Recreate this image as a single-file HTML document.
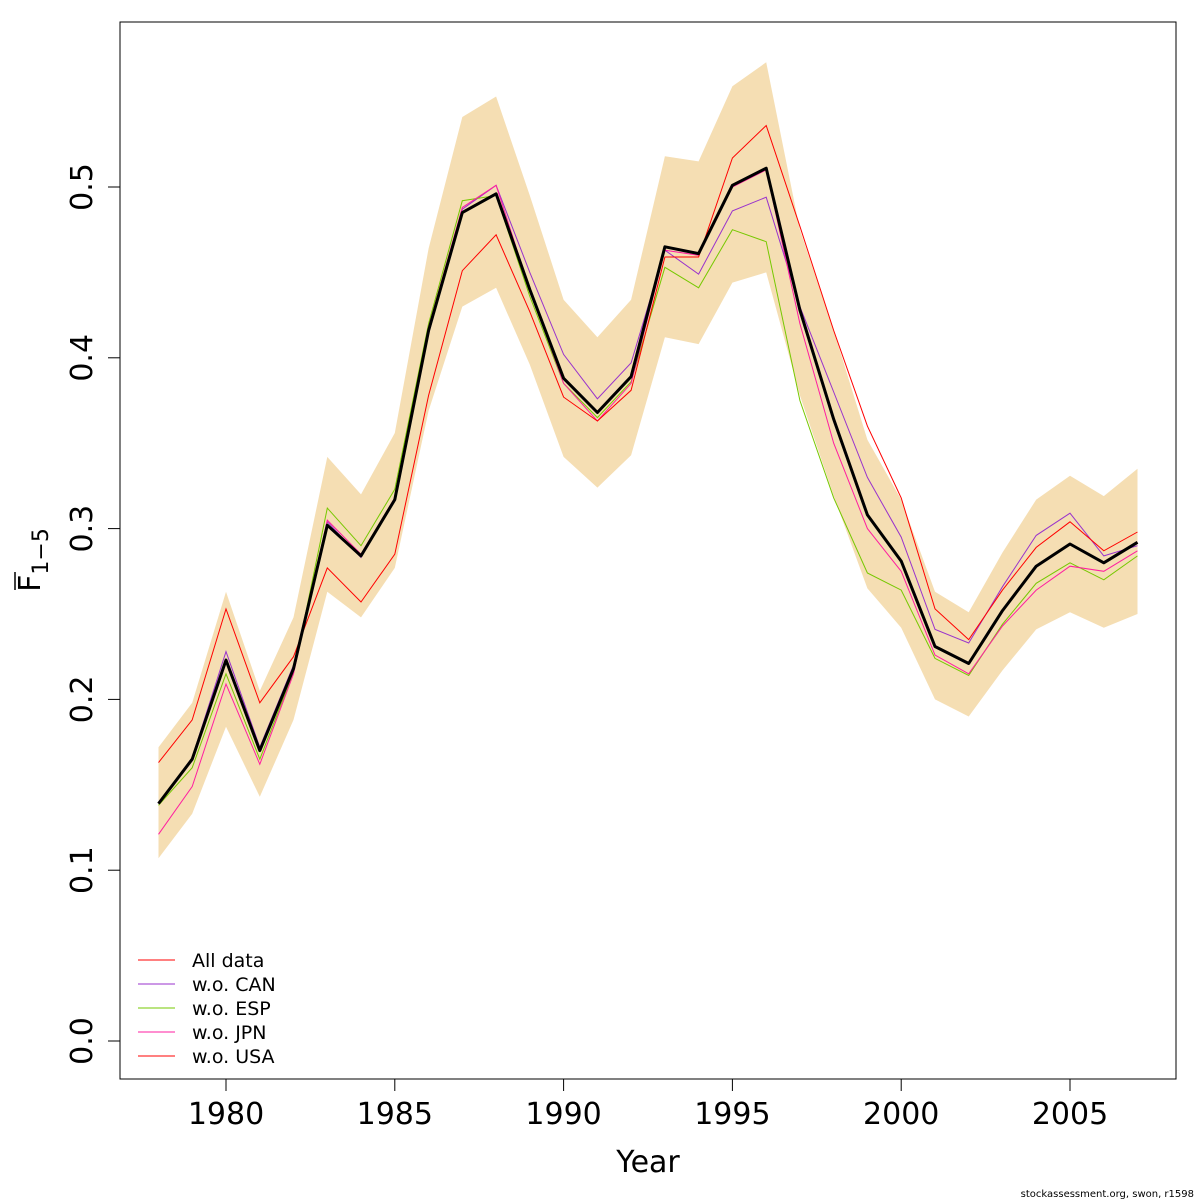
<!DOCTYPE html>
<html><head><meta charset="utf-8"><style>
body{margin:0;background:#fff;}
svg{display:block;font-family:"DejaVu Sans","Liberation Sans",sans-serif;}
</style></head><body>
<svg id="chart" width="1200" height="1200" viewBox="0 0 1200 1200">
<rect x="120" y="22" width="1056" height="1057" fill="none" stroke="#000" stroke-width="1"/>
<g id="band"></g>
<g id="lines"></g>
<g id="xaxis"></g>
<g id="yaxis"></g>
<text x="648" y="1172" font-size="30" text-anchor="middle">Year</text>
<g transform="translate(40,560) rotate(-90)">
<text x="0" y="0" font-size="30" text-anchor="middle">F<tspan font-size="22" dy="8">1−5</tspan></text>
<line x1="-30" y1="-25" x2="-12" y2="-25" stroke="#000" stroke-width="1.5"/>
</g>
<g id="legend"></g>
<text x="1194" y="1197" font-size="10" text-anchor="end">stockassessment.org, swon, r1598</text>
</svg>
<script>
const years=[];for(let y=1978;y<=2007;y++)years.push(y);
const base=[0.139,0.165,0.223,0.170,0.218,0.302,0.284,0.317,0.416,0.485,0.496,0.440,0.388,0.368,0.389,0.465,0.461,0.501,0.511,0.428,0.364,0.308,0.281,0.231,0.221,0.252,0.278,0.291,0.280,0.292];
const upper=[0.172,0.198,0.263,0.205,0.248,0.342,0.320,0.356,0.464,0.541,0.553,0.495,0.434,0.412,0.434,0.518,0.515,0.559,0.573,0.475,0.416,0.352,0.317,0.263,0.251,0.286,0.317,0.331,0.319,0.335];
const lower=[0.107,0.133,0.184,0.143,0.188,0.263,0.248,0.277,0.369,0.430,0.441,0.396,0.342,0.324,0.343,0.412,0.408,0.444,0.450,0.378,0.319,0.265,0.242,0.200,0.190,0.217,0.241,0.251,0.242,0.250];
const woCAN=[0.139,0.166,0.228,0.172,0.220,0.304,0.283,0.318,0.414,0.487,0.501,0.450,0.402,0.376,0.397,0.463,0.449,0.486,0.494,0.430,0.380,0.330,0.295,0.241,0.233,0.266,0.296,0.309,0.284,0.290];
const woESP=[0.138,0.160,0.215,0.165,0.216,0.312,0.290,0.323,0.420,0.492,0.495,0.436,0.385,0.365,0.386,0.453,0.441,0.475,0.468,0.375,0.318,0.274,0.264,0.224,0.214,0.244,0.268,0.280,0.270,0.284];
const woJPN=[0.121,0.149,0.209,0.162,0.215,0.305,0.285,0.318,0.418,0.488,0.501,0.440,0.385,0.363,0.385,0.463,0.460,0.500,0.510,0.420,0.350,0.300,0.275,0.226,0.215,0.243,0.264,0.278,0.275,0.287];
const woUSA=[0.163,0.188,0.253,0.198,0.225,0.277,0.257,0.285,0.378,0.451,0.472,0.427,0.377,0.363,0.381,0.459,0.459,0.517,0.536,0.477,0.416,0.360,0.318,0.253,0.235,0.264,0.289,0.304,0.287,0.298];
const xTicks=[1980,1985,1990,1995,2000,2005];
const yTicks=[0.0,0.1,0.2,0.3,0.4,0.5];
const yTickLabels=["0.0","0.1","0.2","0.3","0.4","0.5"];
const legendLabels=["All data","w.o. CAN","w.o. ESP","w.o. JPN","w.o. USA"];
const legendColors=["#ff0000","#9932cc","#76c800","#ff1ea0","#ff0000"];

const NS="http://www.w3.org/2000/svg";
const X=y=>226+(y-1980)*33.76;
const Y=v=>1041-v*1708;
function mk(t,a,p){const e=document.createElementNS(NS,t);for(const k in a)e.setAttribute(k,a[k]);p.appendChild(e);return e;}
const band=document.getElementById('band');
let d=years.map((y,i)=>(i?'L':'M')+X(y).toFixed(1)+','+Y(upper[i]).toFixed(1)).join('');
for(let i=years.length-1;i>=0;i--)d+='L'+X(years[i]).toFixed(1)+','+Y(lower[i]).toFixed(1);
const bp=mk('path',{d:d+'Z',fill:'#f5deb3'},band);


const lines=document.getElementById('lines');
const series=[base,woCAN,woESP,woJPN,woUSA];
const names=['line-all-data','line-wo-can','line-wo-esp','line-wo-jpn','line-wo-usa'];
series.forEach((s,k)=>{
 const p=mk('polyline',{points:years.map((y,i)=>X(y).toFixed(1)+','+Y(s[i]).toFixed(1)).join(' '),fill:'none',stroke:legendColors[k],'stroke-width':1},lines);
 
 
});
const bl=mk('polyline',{points:years.map((y,i)=>X(y).toFixed(1)+','+Y(base[i]).toFixed(1)).join(' '),fill:'none',stroke:'#000','stroke-width':3,'stroke-linejoin':'round'},lines);


const xa=document.getElementById('xaxis');
mk('line',{x1:X(1980),x2:X(2005),y1:1079,y2:1079,stroke:'#000'},xa);
xTicks.forEach(t=>{
 mk('line',{x1:X(t),x2:X(t),y1:1079,y2:1091,stroke:'#000'},xa);
 const tx=mk('text',{x:X(t),y:1124,'font-size':30,'text-anchor':'middle'},xa);tx.textContent=t;
 
 
});
const ya=document.getElementById('yaxis');
mk('line',{x1:120,x2:120,y1:Y(0),y2:Y(0.5),stroke:'#000'},ya);
yTicks.forEach((t,i)=>{
 mk('line',{x1:108,x2:120,y1:Y(t),y2:Y(t),stroke:'#000'},ya);
 const tx=mk('text',{x:92,y:Y(t),'font-size':30,'text-anchor':'middle',transform:`rotate(-90 92 ${Y(t)})`},ya);tx.textContent=yTickLabels[i];
 
 
});
const lg=document.getElementById('legend');
legendLabels.forEach((l,i)=>{
 const yy=960+i*24;
 mk('line',{x1:138,x2:175,y1:yy,y2:yy,stroke:legendColors[i],'stroke-width':1},lg);
 const tx=mk('text',{x:192,y:yy+7,'font-size':19},lg);tx.textContent=l;
 
 
});
</script>
</body></html>
